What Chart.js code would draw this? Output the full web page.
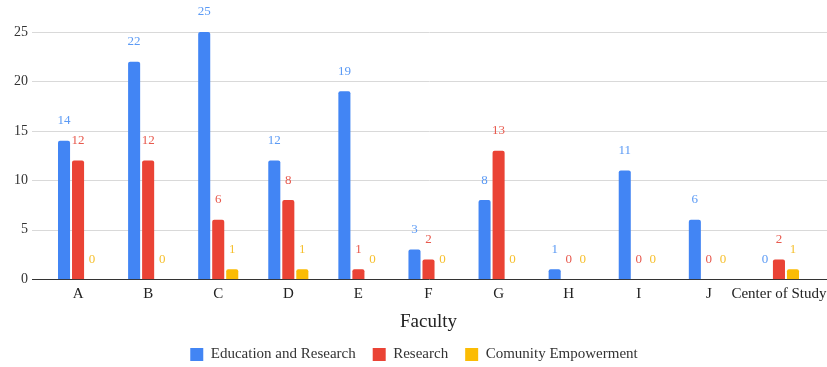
<!DOCTYPE html>
<html>
<head>
<meta charset="utf-8">
<script src="https://cdn.jsdelivr.net/npm/chart.js@4"></script>
<style>
  html, body { margin: 0; padding: 0; background: #fff; }
  #wrap { width: 827px; height: 367px; }
</style>
</head>
<body>
<div id="wrap"><canvas id="facultyChart"></canvas></div>
<script>
// data
const faculties = ["A", "B", "C", "D", "E", "F", "G", "H", "I", "J", "Center of Study"];
const educationResearch = [14, 22, 25, 12, 19, 3, 8, 1, 11, 6, 0];
const research = [12, 12, 6, 8, 1, 2, 13, 0, 0, 0, 2];
const communityEmpowerment = [0, 0, 1, 1, 0, 0, 0, 0, 0, 0, 1];
const yTicks = [0, 5, 10, 15, 20, 25];

const serif = "'Liberation Serif', 'Times New Roman', serif";
const labelColors = ["#5b9af5", "#e8594d", "#f6c02e"];

// value labels above each bar (zeros included)
const valueLabels = {
    id: "valueLabels",
    afterDatasetsDraw(chart) {
        const ctx = chart.ctx;
        ctx.save();
        ctx.font = "13px " + serif;
        ctx.textAlign = "center";
        ctx.textBaseline = "middle";
        chart.data.datasets.forEach(function (ds, i) {
            const meta = chart.getDatasetMeta(i);
            ctx.fillStyle = labelColors[i];
            meta.data.forEach(function (bar, j) {
                ctx.fillText(String(ds.data[j]), bar.x, bar.y - 20);
            });
        });
        ctx.restore();
    }
};

// horizontal gridlines that run past the plot edges like the original
const wideGrid = {
    id: "wideGrid",
    beforeDatasetsDraw(chart) {
        const ctx = chart.ctx;
        const y = chart.scales.y;
        ctx.save();
        yTicks.forEach(function (v) {
            const py = Math.round(y.getPixelForValue(v)) + 0.5;
            ctx.strokeStyle = v === 0 ? "#333333" : "#d9d9d9";
            ctx.lineWidth = 1;
            ctx.beginPath();
            ctx.moveTo(32, py);
            ctx.lineTo(chart.width, py);
            ctx.stroke();
        });
        ctx.restore();
    }
};

new Chart(document.getElementById("facultyChart"), {
    type: "bar",
    data: {
        labels: faculties,
        datasets: [
            { label: "Education and Research", data: educationResearch, backgroundColor: "#4285f4" },
            { label: "Research", data: research, backgroundColor: "#ea4335" },
            { label: "Comunity Empowerment", data: communityEmpowerment, backgroundColor: "#fbbc04" }
        ]
    },
    options: {
        responsive: true,
        maintainAspectRatio: false,
        animation: false,
        datasets: {
            bar: { categoryPercentage: 0.6, barPercentage: 0.86, borderRadius: 2, borderSkipped: "bottom" }
        },
        layout: { padding: { top: 32, left: 14, right: 13, bottom: -5 } },
        scales: {
            x: {
                afterFit(axis) { axis.paddingRight = 0; axis.paddingLeft = 0; },
                grid: { display: false, drawTicks: false },
                border: { display: false },
                ticks: { color: "#222", font: { family: serif, size: 15 }, padding: 6, maxRotation: 0, autoSkip: false },
                title: { display: true, text: "Faculty", color: "#222", font: { family: serif, size: 19 }, padding: { top: 1, bottom: -3 } }
            },
            y: {
                min: 0,
                max: 25,
                afterBuildTicks(axis) { axis.ticks = yTicks.map(function (v) { return { value: v }; }); },
                afterFit(axis) { axis.width = 29; },
                grid: { display: false, drawTicks: false },
                border: { display: false },
                ticks: { color: "#333", font: { family: serif, size: 14 }, padding: 15 }
            }
        },
        plugins: {
            legend: {
                position: "bottom",
                labels: { color: "#333", font: { family: serif, size: 15 }, boxWidth: 13, boxHeight: 13, padding: 17 }
            },
            tooltip: { enabled: false }
        }
    },
    plugins: [wideGrid, valueLabels]
});
</script>
</body>
</html>
